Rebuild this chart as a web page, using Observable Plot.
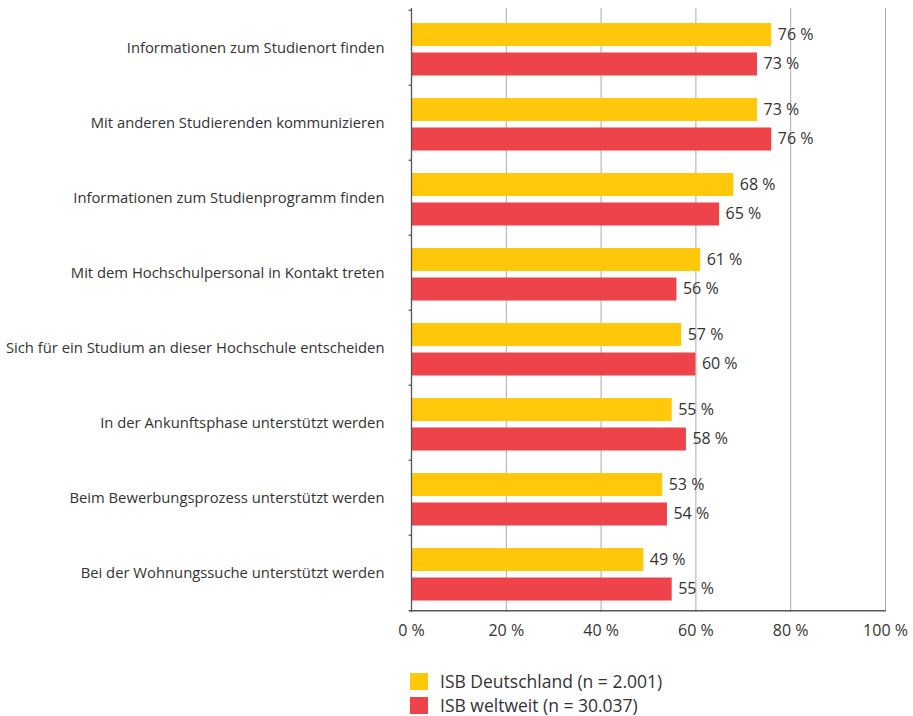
<!DOCTYPE html>
<html>
<head>
<meta charset="utf-8">
<script src="https://cdn.jsdelivr.net/npm/d3@7"></script>
<script src="https://cdn.jsdelivr.net/npm/@observablehq/plot@0.6"></script>
<style>
  body { margin: 0; background: #fff; font-family: "Open Sans", sans-serif; }
  #legend { position: absolute; left: 410px; top: 669px; font-size: 17.5px; color: #333; }
  .row { display: flex; align-items: center; height: 24px; }
  .row span { line-height: 18px; }
  .sw { width: 18px; height: 17px; margin-right: 12px; }
</style>
</head>
<body>
<div id="chart"></div>
<div id="legend"></div>
<script>
const categories = [
  "Informationen zum Studienort finden",
  "Mit anderen Studierenden kommunizieren",
  "Informationen zum Studienprogramm finden",
  "Mit dem Hochschulpersonal in Kontakt treten",
  "Sich für ein Studium an dieser Hochschule entscheiden",
  "In der Ankunftsphase unterstützt werden",
  "Beim Bewerbungsprozess unterstützt werden",
  "Bei der Wohnungssuche unterstützt werden"
];
const seriesNames = ["ISB Deutschland (n = 2.001)", "ISB weltweit (n = 30.037)"];
const deutschland = [76, 73, 68, 61, 57, 55, 53, 49];
const weltweit = [73, 76, 65, 56, 60, 58, 54, 55];
const xTicks = [0, 20, 40, 60, 80, 100];
const colors = ["#FFC80A", "#EE4348"];

const de = categories.map((c, i) => ({cat: c, v: deutschland[i]}));
const ww = categories.map((c, i) => ({cat: c, v: weltweit[i]}));

const plotTop = 8, plotBottom = 612;
const step = (plotBottom - plotTop) / categories.length;

const chart = Plot.plot({
  width: 913,
  height: 650,
  marginLeft: 411,
  marginRight: 28,
  marginTop: plotTop,
  marginBottom: 650 - plotBottom,
  style: {fontFamily: "Open Sans, sans-serif", color: "#333"},
  x: {domain: [0, 100], label: null},
  y: {domain: categories, padding: 0, label: null},
  marks: [
    Plot.ruleX(xTicks.filter(d => d > 0), {stroke: "#aaa", strokeWidth: 1, strokeOpacity: 1}),
    Plot.barX(de, {x: "v", y: "cat", fill: colors[0], insetTop: 13, insetBottom: step - 36.5}),
    Plot.barX(ww, {x: "v", y: "cat", fill: colors[1], insetTop: 42.5, insetBottom: step - 66}),
    Plot.text(de, {x: "v", y: "cat", text: d => d.v + " %", dx: 6, dy: 24.5 - step / 2, textAnchor: "start", fontSize: 16, fill: "#333"}),
    Plot.text(ww, {x: "v", y: "cat", text: d => d.v + " %", dx: 6, dy: 54 - step / 2, textAnchor: "start", fontSize: 16, fill: "#333"}),
    Plot.ruleX([0], {stroke: "#555", strokeWidth: 1.3}),
    Plot.link(categories, {x1: -0.6, x2: 0, y1: d => d, y2: d => d, dy: -step / 2, stroke: "#555", strokeWidth: 1.3}),
    Plot.link([categories[categories.length - 1]], {x1: -0.6, x2: 100, y1: d => d, y2: d => d, dy: step / 2, stroke: "#555", strokeWidth: 1.3}),
    Plot.axisY({tickSize: 0, tickPadding: 27, fontSize: 14.8, dy: 0, label: null}),
    Plot.axisX({ticks: xTicks, tickSize: 0, tickPadding: 12, fontSize: 16, tickFormat: d => d + " %", label: null})
  ]
});
document.getElementById("chart").appendChild(chart);

const legend = document.getElementById("legend");
seriesNames.forEach((name, i) => {
  const row = document.createElement("div");
  row.className = "row";
  const sw = document.createElement("div");
  sw.className = "sw";
  sw.style.background = colors[i];
  const t = document.createElement("span");
  t.textContent = name;
  row.appendChild(sw);
  row.appendChild(t);
  legend.appendChild(row);
});
</script>
</body>
</html>
